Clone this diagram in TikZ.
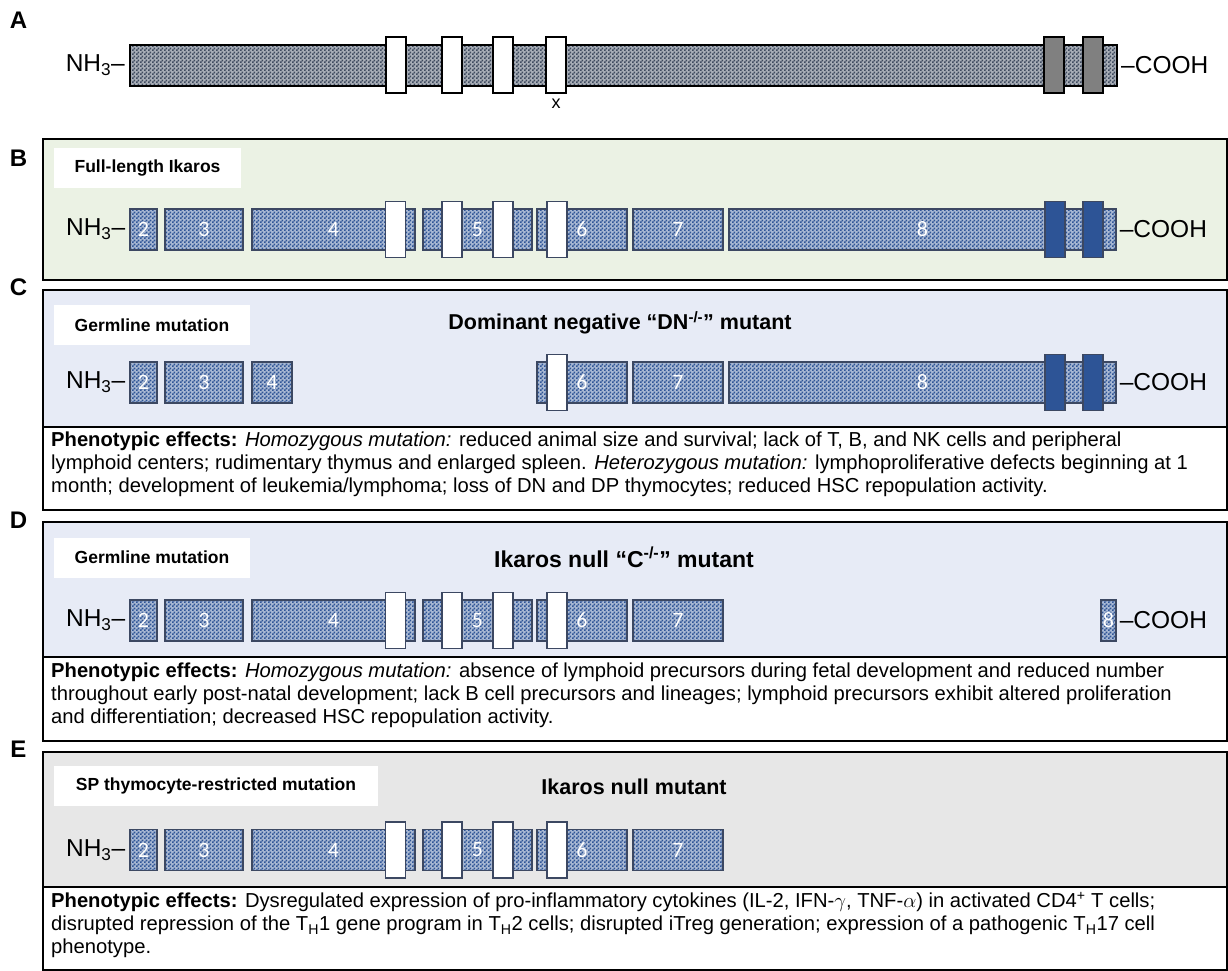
\documentclass[tikz,border=0pt]{standalone}
\usepackage{fontspec}
\setmainfont{Liberation Sans}
\newfontfamily\numfont{Carlito}
\usetikzlibrary{patterns,positioning}

\pgfdeclarepatternformonly{finecheck}{\pgfpointorigin}{\pgfqpoint{4pt}{4pt}}{\pgfqpoint{4pt}{4pt}}{%
  \pgfpathrectangle{\pgfpointorigin}{\pgfqpoint{2pt}{2pt}}%
  \pgfpathrectangle{\pgfqpoint{2pt}{2pt}}{\pgfqpoint{2pt}{2pt}}%
  \pgfusepath{fill}}

\definecolor{greenbg}{RGB}{235,242,228}
\definecolor{bluebg}{RGB}{231,235,246}
\definecolor{graybg}{RGB}{231,231,231}
\definecolor{exblue}{RGB}{47,85,151}
\definecolor{exedge}{RGB}{60,72,98}
\definecolor{slate}{RGB}{62,74,94}
\definecolor{znblue}{RGB}{45,84,150}

\begin{document}
\begin{tikzpicture}[x=1pt,y=-1pt,
    panel/.style={line width=2.2pt},
    exon/.style={draw=exedge,line width=1.3pt,preaction={fill=exblue!42},pattern=finecheck,pattern color=exblue,
      minimum height=41,inner sep=0,text=white,font=\numfont\fontsize{22}{22}\selectfont},
    finger/.style={draw=exedge,line width=1.3pt,fill=white,minimum width=20,minimum height=56,inner sep=0},
    znf/.style={finger,fill=znblue},
    terminus/.style={inner sep=0,font=\fontsize{24.5}{26}\selectfont},
    paneltag/.style={inner sep=0,font=\bfseries\fontsize{24}{26}\selectfont},
    tagbox/.style={fill=white,inner sep=0,minimum height=40,font=\bfseries\fontsize{17.5}{19}\selectfont},
    headline/.style={inner sep=0,font=\bfseries\fontsize{21.5}{23}\selectfont},
    pheno/.style={anchor=north west,align=left,inner sep=0,font=\fontsize{20.2}{23}\selectfont}]
  \useasboundingbox (0,0) rectangle (1228,971);

  % panel frames
  \draw[panel,fill=greenbg] (43,139) rectangle (1227,280);
  \fill[bluebg] (43,290) rectangle (1227,427);
  \draw[panel] (43,290) rectangle (1227,510); \draw[panel] (43,427) -- (1227,427);
  \fill[bluebg] (43,522) rectangle (1227,657);
  \draw[panel] (43,522) rectangle (1227,741); \draw[panel] (43,657) -- (1227,657);
  \fill[graybg] (43,752) rectangle (1227,887);
  \draw[panel] (43,752) rectangle (1227,970); \draw[panel] (43,887) -- (1227,887);

  \node[paneltag] (ta) at (18.5,20) {A};
  \node[paneltag] (tb) at (18.5,158) {B};
  \node[paneltag] (tc) at (18.5,287) {C};
  \node[paneltag] (td) at (18.5,520) {D};
  \node[paneltag] (te) at (18.5,749) {E};

  % A: protein
  \node[draw,line width=2pt,preaction={fill=slate!45},pattern=finecheck,pattern color=slate,
    minimum width=987,minimum height=41,inner sep=0] (abar) at (623.5,65.5) {};
  \node[finger,draw=black,line width=2pt] (af1) at (395.5,65.5) {};
  \node[finger,draw=black,line width=2pt] (af2) at (452,65.5) {};
  \node[finger,draw=black,line width=2pt] (af3) at (503,65.5) {};
  \node[finger,draw=black,line width=2pt] (af4) at (556,65.5) {};
  \node[finger,draw=black,line width=2pt,fill=gray] (az1) at (1054,65.5) {};
  \node[finger,draw=black,line width=2pt,fill=gray] (az2) at (1092.5,65.5) {};
  \node[inner sep=0,font=\fontsize{18}{18}\selectfont] (ax) at (556,104) {x};
  \node[terminus,left=4pt of abar] (an) {NH\textsubscript{3}–};
  \node[terminus,right=3pt of abar] (ac) {–COOH};

  % B, D, E: exons 2-7
  \foreach \p/\y in {b/229.5,d/620.5,e/850}{
    \node[exon,minimum width=27] (\p2) at (143.5,\y) {2};
    \node[exon,minimum width=78] (\p3) at (204,\y) {3};
    \node[exon,minimum width=163] (\p4) at (333.5,\y) {4};
    \node[exon,minimum width=109] (\p5) at (477.5,\y) {5};
    \node[exon,minimum width=90] (\p6) at (582,\y) {6};
    \node[exon,minimum width=90] (\p7) at (678,\y) {7};
    \node[finger] (\p f1) at (395.5,\y) {};
    \node[finger] (\p f2) at (452,\y) {};
    \node[finger] (\p f3) at (503,\y) {};
    \node[finger] (\p f4) at (557,\y) {};
    \node[terminus,left=4pt of \p2] (\p n) {NH\textsubscript{3}–};
  }
  \node[exon,minimum width=387] (b8) at (922.5,229.5) {8};
  \node[znf] (bz1) at (1055,229.5) {};
  \node[znf] (bz2) at (1093,229.5) {};
  \node[terminus,right=3pt of b8] (bc) {–COOH};
  \node[tagbox,minimum width=187] (btag) at (147.5,168) {Full-length Ikaros};

  % C: dominant negative
  \node[exon,minimum width=27] (c2) at (143.5,382.5) {2};
  \node[exon,minimum width=78] (c3) at (204,382.5) {3};
  \node[exon,minimum width=40] (c4) at (272,382.5) {4};
  \node[exon,minimum width=90] (c6) at (582,382.5) {6};
  \node[exon,minimum width=90] (c7) at (678,382.5) {7};
  \node[exon,minimum width=387] (c8) at (922.5,382.5) {8};
  \node[finger] (cf4) at (557,382.5) {};
  \node[znf] (cz1) at (1055,382.5) {};
  \node[znf] (cz2) at (1093,382.5) {};
  \node[terminus,left=4pt of c2] (cn) {NH\textsubscript{3}–};
  \node[terminus,right=3pt of c8] (cc) {–COOH};
  \node[tagbox,minimum width=196] (ctag) at (152,325) {Germline mutation};
  \node[headline] (ctitle) at (620,323) {Dominant negative “DN\textsuperscript{-/-}” mutant};
  \node[pheno] (ctext) at (51,432) {\textbf{Phenotypic effects:} \textit{Homozygous mutation:} reduced animal size and survival; lack of T, B, and NK cells and peripheral\\
    lymphoid centers; rudimentary thymus and enlarged spleen. \textit{Heterozygous mutation:} lymphoproliferative defects beginning at 1\\
    month; development of leukemia/lymphoma; loss of DN and DP thymocytes; reduced HSC repopulation activity.};

  % D: null C-/-
  \node[exon,minimum width=15] (d8) at (1108.5,620.5) {8};
  \node[terminus,right=3pt of d8] (dc) {–COOH};
  \node[tagbox,minimum width=196] (dtag) at (152,557.5) {Germline mutation};
  \node[headline,font=\bfseries\fontsize{23}{25}\selectfont] (dtitle) at (624,557) {Ikaros null “C\textsuperscript{-/-}” mutant};
  \node[pheno] (dtext) at (51,663) {\textbf{Phenotypic effects:} \textit{Homozygous mutation:} absence of lymphoid precursors during fetal development and reduced number\\
    throughout early post-natal development; lack B cell precursors and lineages; lymphoid precursors exhibit altered proliferation\\
    and differentiation; decreased HSC repopulation activity.};

  % E: SP thymocyte null
  \node[tagbox,minimum width=324] (etag) at (216,786) {SP thymocyte-restricted mutation};
  \node[headline] (etitle) at (634,787) {Ikaros null mutant};
  \node[pheno] (etext) at (51,892) {\textbf{Phenotypic effects:} Dysregulated expression of pro-inflammatory cytokines (IL-2, IFN-$\gamma$, TNF-$\alpha$) in activated CD4\textsuperscript{+} T cells;\\
    disrupted repression of the T\textsubscript{H}1 gene program in T\textsubscript{H}2 cells; disrupted iTreg generation; expression of a pathogenic T\textsubscript{H}17 cell\\
    phenotype.};
\end{tikzpicture}
\end{document}
